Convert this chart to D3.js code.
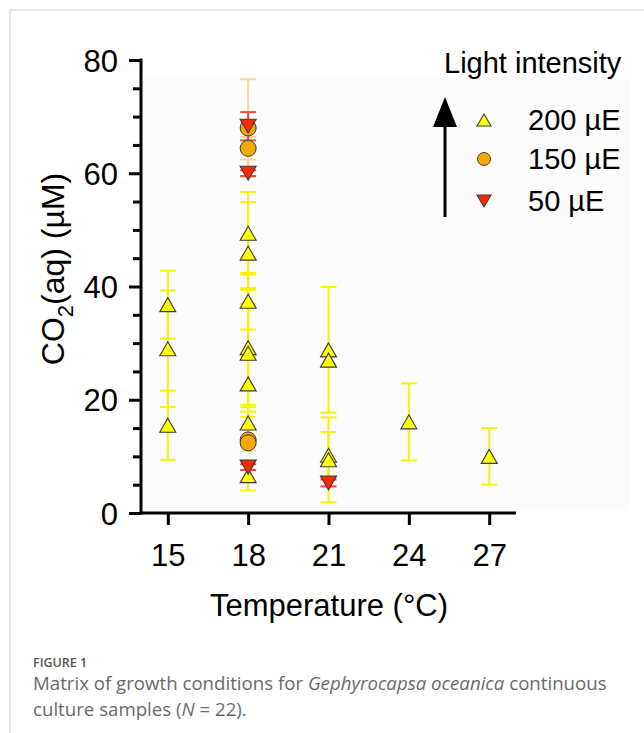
<!DOCTYPE html>
<html>
<head>
<meta charset="utf-8">
<script src="https://cdn.jsdelivr.net/npm/d3@7"></script>
<style>
  html, body { margin: 0; padding: 0; background: #fff; }
  svg { display: block; }
  text { font-family: "Liberation Sans", Arial, Helvetica, sans-serif; }
</style>
</head>
<body>
<svg id="fig" width="644" height="733"></svg>
<script>
// ---- data -------------------------------------------------------------
const tempTicks = [15, 18, 21, 24, 27];
const co2Ticks = [0, 20, 40, 60, 80];

// 200 µE (yellow up-triangles): temperature, CO2(aq) mean, ± error
const temp200 = [15, 15, 15, 18, 18, 18, 18, 18, 18, 18, 18, 21, 21, 21, 21, 24, 27];
const co2_200 = [36.8, 29.0, 15.5, 49.4, 45.9, 37.4, 29.2, 28.2, 22.8, 15.9, 6.6, 28.8, 27.0, 10.2, 9.4, 16.1, 10.0];
const err200  = [6.0, 10.3, 6.1, 7.3, 9.0, 5.0, 10.5, 11.2, 4.9, 3.2, 2.6, 11.1, 0.8, 4.1, 7.5, 6.8, 5.0];

// 150 µE (orange circles)
const temp150 = [18, 18, 18, 18];
const co2_150 = [68.0, 64.4, 12.9, 12.4];
const err150  = [8.6, 2.0, 1.9, 0.6];

// 50 µE (red down-triangles)
const temp50 = [18, 18, 18, 21];
const co2_50 = [68.3, 60.0, 8.1, 5.3];
const err50  = [2.5, 0.5, 0.5, 0.6];

const legendLabels = ["200 µE", "150 µE", "50 µE"];

// ---- layout -----------------------------------------------------------
const svg = d3.select("#fig");
const x = d3.scaleLinear().domain([14, 28]).range([141, 516]);
const y = d3.scaleLinear().domain([0, 80]).range([513, 60]);

const series = [
  { t: temp200, v: co2_200, e: err200, shape: "up",   fill: "#ffff00", bar: "#f8f400" },
  { t: temp150, v: co2_150, e: err150, shape: "circle", fill: "#f5aa00", bar: "#fcd49c" },
  { t: temp50,  v: co2_50,  e: err50,  shape: "down", fill: "#ff2a00", bar: "#f0483a" }
];

// figure frame
svg.append("line").attr("x1", 10).attr("x2", 10).attr("y1", 10).attr("y2", 733)
  .attr("stroke", "#cfcfcf").attr("stroke-width", 1);
svg.append("line").attr("x1", 10).attr("x2", 644).attr("y1", 10).attr("y2", 10)
  .attr("stroke", "#cfcfcf").attr("stroke-width", 1);

// faint plot backdrop
svg.append("rect").attr("x", 143).attr("y", 78).attr("width", 487).attr("height", 432)
  .attr("fill", "#fcfcfc");

// ---- error bars -------------------------------------------------------
const capW = 8;
series.forEach(s => {
  const g = svg.append("g").attr("stroke", s.bar).attr("stroke-width", 2).attr("fill", "none");
  s.t.forEach((t, i) => {
    const cx = x(t), hi = y(s.v[i] + s.e[i]), lo = y(s.v[i] - s.e[i]);
    g.append("line").attr("x1", cx).attr("x2", cx).attr("y1", hi).attr("y2", lo);
    g.append("line").attr("x1", cx - capW).attr("x2", cx + capW).attr("y1", hi).attr("y2", hi);
    g.append("line").attr("x1", cx - capW).attr("x2", cx + capW).attr("y1", lo).attr("y2", lo);
  });
});

// ---- markers ----------------------------------------------------------
function markerPath(shape, w, h) {
  if (shape === "up") return `M0,${-h / 2}L${w / 2},${h / 2}L${-w / 2},${h / 2}Z`;
  if (shape === "down") return `M0,${h / 2}L${w / 2},${-h / 2}L${-w / 2},${-h / 2}Z`;
  return null;
}
function drawMarker(g, shape, cx, cy, fill, big) {
  if (shape === "circle") {
    g.append("circle").attr("cx", cx).attr("cy", cy).attr("r", big ? 8 : 6.5)
      .attr("fill", fill).attr("stroke", "#3a3a3a").attr("stroke-width", 1);
  } else {
    g.append("path").attr("d", markerPath(shape, big ? 16 : 14, big ? 14 : 12))
      .attr("transform", `translate(${cx},${cy})`)
      .attr("fill", fill).attr("stroke", "#3a3a3a").attr("stroke-width", 1.1)
      .attr("stroke-linejoin", "miter");
  }
}
series.forEach(s => {
  const g = svg.append("g");
  s.t.forEach((t, i) => drawMarker(g, s.shape, x(t), y(s.v[i]), s.fill, true));
});

// ---- axes -------------------------------------------------------------
const axisW = 3;
const yAxis = d3.axisLeft(y).tickValues(co2Ticks).tickSize(12).tickPadding(11).tickFormat(d3.format("d"));
const yMinor = d3.axisLeft(y).tickValues(d3.range(5, 80, 5).filter(v => v % 20 !== 0)).tickSize(8).tickFormat("");
const xAxis = d3.axisBottom(x).tickValues(tempTicks).tickSize(12).tickFormat(d3.format("d"));

const gy = svg.append("g").attr("transform", `translate(${x(14)},0)`).call(yAxis);
svg.append("g").attr("transform", `translate(${x(14)},0)`).call(yMinor)
  .call(g => g.select(".domain").remove())
  .selectAll("line").attr("stroke", "#000").attr("stroke-width", axisW);
const gx = svg.append("g").attr("transform", `translate(0,${y(0)})`).call(xAxis);

[gx, gy].forEach(g => {
  g.select(".domain").remove();
  g.selectAll(".tick line").attr("stroke", "#000").attr("stroke-width", axisW);
  g.selectAll(".tick text").attr("fill", "#000").style("font-size", "31px");
});
// axis lines drawn as plain strokes meeting at the origin
svg.append("line").attr("x1", x(14)).attr("x2", x(14)).attr("y1", y(80) - 1.5).attr("y2", y(0) + 1.5)
  .attr("stroke", "#000").attr("stroke-width", axisW);
svg.append("line").attr("x1", x(14) - 1.5).attr("x2", x(28)).attr("y1", y(0)).attr("y2", y(0))
  .attr("stroke", "#000").attr("stroke-width", axisW);
gy.selectAll(".tick text").attr("dy", "0.36em");
gx.selectAll(".tick text").attr("y", 53).attr("dy", 0);

// axis titles
svg.append("text").attr("x", 329).attr("y", 616).attr("text-anchor", "middle")
  .style("font-size", "31px").text("Temperature (°C)");

const yl = svg.append("text").attr("transform", "translate(64,269) rotate(-90)")
  .attr("text-anchor", "middle").style("font-size", "32px");
yl.append("tspan").text("CO");
yl.append("tspan").attr("dy", 9).style("font-size", "22px").text("2");
yl.append("tspan").attr("dy", -9).text("(aq) (µM)");

// ---- legend -----------------------------------------------------------
svg.append("text").attr("x", 444).attr("y", 73).style("font-size", "29px").text("Light intensity");
svg.append("line").attr("x1", 445).attr("x2", 445).attr("y1", 217).attr("y2", 120)
  .attr("stroke", "#000").attr("stroke-width", 3);
svg.append("path").attr("d", "M445,97L457,127L433,127Z").attr("fill", "#000");

const legY = [120, 159, 201];
const lg = svg.append("g");
series.forEach((s, i) => {
  drawMarker(lg, s.shape, 484, legY[i], s.fill, false);
  lg.append("text").attr("x", 528).attr("y", legY[i]).attr("dy", "0.35em")
    .style("font-size", "29px").text(legendLabels[i]);
});

// ---- caption ----------------------------------------------------------
const capFont = '"Open Sans", "Noto Sans", sans-serif';
svg.append("text").attr("x", 33).attr("y", 667).style("font-family", capFont)
  .style("font-size", "12.5px").style("font-weight", 600).attr("fill", "#555")
  .text("FIGURE 1");
const c1 = svg.append("text").attr("x", 33).attr("y", 690).style("font-family", capFont)
  .style("font-size", "17px").attr("fill", "#6a6a6a");
c1.append("tspan").text("Matrix of growth conditions for ");
c1.append("tspan").style("font-style", "italic").text("Gephyrocapsa oceanica");
c1.append("tspan").text(" continuous");
const c2 = svg.append("text").attr("x", 33).attr("y", 716).style("font-family", capFont)
  .style("font-size", "17px").attr("fill", "#6a6a6a");
c2.append("tspan").text("culture samples (");
c2.append("tspan").style("font-style", "italic").text("N");
c2.append("tspan").text(" = 22).");
// fit the caption's first line to the column width
const w1 = c1.node().getComputedTextLength();
const fs = 17 * 574 / w1;
c1.style("font-size", fs + "px");
c2.style("font-size", fs + "px");
</script>
</body>
</html>
